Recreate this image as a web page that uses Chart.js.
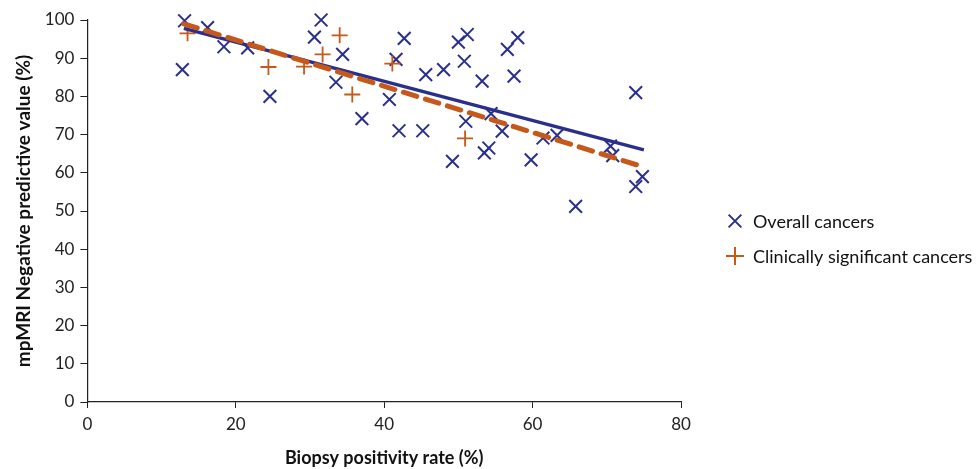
<!DOCTYPE html>
<html><head><meta charset="utf-8">
<script src="https://cdn.jsdelivr.net/npm/chart.js@4.4.1/dist/chart.umd.min.js"></script>
<style>
html,body{margin:0;padding:0;background:#fff;}
#wrap{width:976px;height:469px;position:relative;}
</style></head>
<body><div id="wrap"><canvas id="c" width="976" height="469"></canvas></div>
<script>
const overallX = [12.8,13.1,16.2,18.4,21.6,24.6,30.6,31.5,33.5,34.4,37.0,40.7,41.6,42.0,42.7,45.2,45.6,48.0,49.2,50.0,50.8,51.2,51.0,53.2,54.4,53.5,54.1,55.9,56.6,58.0,57.5,59.8,61.4,63.3,65.8,70.5,70.8,73.9,73.9,74.8];
const overallY = [87,99.8,98,93,92.7,80,95.5,100,83.7,91,74.2,79.2,89.7,71,95.2,71,85.7,87,63,94.2,89.2,96.2,73.5,84,75.5,65.2,66.5,70.9,92.3,95.4,85.3,63.4,69.1,69.8,51.2,67,64.5,81,56.4,59];
const csX = [13.5,24.4,29.2,31.7,34.0,35.7,41.1,50.9];
const csY = [96.5,87.7,87.8,91,96,80.5,88.6,69];
const trendOverallX = [13,75];
const trendOverallY = [97.8,66];
const trendCsX = [13,75];
const trendCsY = [99,61.5];
const xTicks = [0,20,40,60,80];
const yTicks = [0,10,20,30,40,50,60,70,80,90,100];
const legendLabels = ['Overall cancers','Clinically significant cancers'];

const BLUE = '#2B2F8C';
const ORANGE = '#C6581A';
const FONT = 'Lato, "Open Sans", sans-serif';

const pts = (xs, ys) => xs.map((x,i)=>({x:x,y:ys[i]}));

const legendPlugin = {
  id:'customLegend',
  afterDraw(chart){
    const ctx = chart.ctx;
    const items = [
      {label:legendLabels[0], style:'crossRot', color:BLUE, r:9},
      {label:legendLabels[1], style:'cross', color:ORANGE, r:9}
    ];
    ctx.save();
    items.forEach((it,i)=>{
      const y = 221 + i*35;
      ctx.strokeStyle = it.color;
      ctx.lineWidth = 2;
      Chart.helpers.drawPoint(ctx,{pointStyle:it.style,radius:it.r,borderWidth:2},735,y);
      ctx.fillStyle = '#111';
      ctx.font = '18px ' + FONT;
      ctx.textBaseline = 'middle';
      ctx.textAlign = 'left';
      ctx.fillText(it.label, 753, y+1);
    });
    ctx.restore();
  }
};

new Chart(document.getElementById('c'),{
  type:'scatter',
  data:{datasets:[
    {label:legendLabels[0], data:pts(overallX,overallY), pointStyle:'crossRot', pointRadius:9, borderColor:BLUE, backgroundColor:BLUE, pointBorderWidth:2, order:3, clip:false},
    {label:legendLabels[1], data:pts(csX,csY), pointStyle:'cross', pointRadius:8, borderColor:ORANGE, backgroundColor:ORANGE, pointBorderWidth:1.8, order:2, clip:false},
    {type:'line', label:'trendOverall', data:pts(trendOverallX,trendOverallY), borderColor:BLUE, borderWidth:3.5, pointRadius:0, showLine:true, fill:false, order:1},
    {type:'line', label:'trendCs', data:pts(trendCsX,trendCsY), borderColor:ORANGE, borderWidth:5, borderDash:[14,9], borderCapStyle:'round', pointRadius:0, showLine:true, fill:false, order:0}
  ]},
  options:{
    responsive:false, animation:false,
    layout:{padding:{left:8,right:295,top:20,bottom:0}},
    plugins:{legend:{display:false},tooltip:{enabled:false}},
    scales:{
      x:{type:'linear',min:0,max:80,
        afterBuildTicks(a){a.ticks=xTicks.map(v=>({value:v}));},
        grid:{drawOnChartArea:false,drawTicks:true,tickLength:6,color:'#222'},
        border:{color:'#222',width:1.2},
        ticks:{color:'#222',font:{family:FONT,size:17},padding:6},
        title:{display:true,text:'Biopsy positivity rate (%)',color:'#111',font:{family:FONT,size:18,weight:'bold'},padding:{top:7,bottom:0}}
      },
      y:{type:'linear',min:0,max:100,
        afterBuildTicks(a){a.ticks=yTicks.map(v=>({value:v}));},
        grid:{drawOnChartArea:false,drawTicks:true,tickLength:7,color:'#222'},
        border:{color:'#222',width:1.2},
        ticks:{color:'#222',font:{family:FONT,size:17},padding:6},
        title:{display:true,text:'mpMRI Negative predictive value (%)',color:'#111',font:{family:FONT,size:19,weight:'bold'},padding:{bottom:4}}
      }
    }
  },
  plugins:[legendPlugin]
});
</script></body></html>
